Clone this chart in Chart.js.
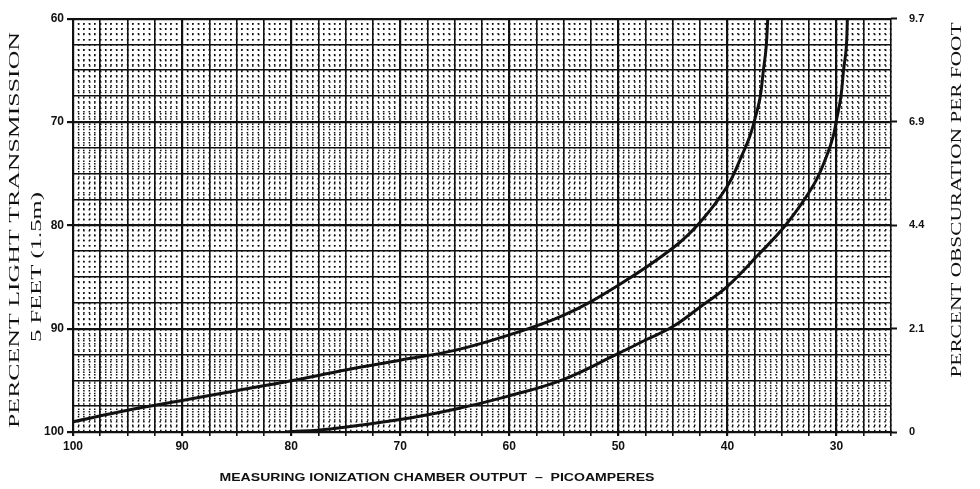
<!DOCTYPE html>
<html>
<head>
<meta charset="utf-8">
<script src="https://cdn.jsdelivr.net/npm/chart.js@4/dist/chart.umd.min.js"></script>
<style>
  html, body { margin: 0; padding: 0; background: #fff; }
  #wrap { width: 980px; height: 489px; }
</style>
</head>
<body>
<div id="wrap"><canvas id="grafica" width="980" height="489"></canvas></div>
<script>
// curva izquierda
const curveAx = [100, 95, 90, 85, 80, 75, 70, 65, 60, 55, 50, 45, 42.5, 40, 38.7, 37.95, 37.5, 37.0, 36.7, 36.45, 36.3];
const curveAy = [99.0, 97.9, 96.95, 96.0, 95.05, 94.0, 93.05, 92.1, 90.6, 88.7, 85.8, 82.2, 79.7, 76.2, 73.3, 71.4, 69.8, 67.6, 65.0, 62.8, 60.0];

// curva derecha
const curveBx = [80.5, 76.4, 70, 65, 60, 55, 50, 47.5, 45, 42.5, 40, 37.3, 34.6, 32.1, 30.9, 30.3, 30.0, 29.6, 29.35, 29.1, 29.0];
const curveBy = [100, 99.7, 98.8, 97.8, 96.5, 94.9, 92.4, 91.1, 89.8, 87.9, 85.9, 83.0, 79.9, 76.1, 73.3, 71.4, 69.8, 67.6, 65.0, 62.8, 60.0];

// ejes
const xLabelValues = [100, 90, 80, 70, 60, 50, 40, 30];
const yLabelValues = [60, 70, 80, 90, 100];
const rightTickValues = [60, 70, 80, 90, 100];
const rightTickLabels = ['9.7', '6.9', '4.4', '2.1', '0'];

const leftTitle = ['PERCENT LIGHT TRANSMISSION', '5 FEET (1.5m)'];
const rightTitle = 'PERCENT OBSCURATION PER FOOT';
const bottomTitle = 'MEASURING IONIZATION CHAMBER OUTPUT  \u2013  PICOAMPERES';

const toPoints = (xs, ys) => xs.map((x, i) => ({ x, y: ys[i] }));
const isMult = (v, m) => Math.abs(v / m - Math.round(v / m)) < 1e-6;

// texto estirado al ancho del original
function fitText(ctx, text, cx, cy, width, font, angle) {
  ctx.save();
  ctx.font = font;
  const w = ctx.measureText(text).width;
  ctx.translate(cx, cy);
  ctx.rotate(angle);
  ctx.scale(width / w, 1);
  ctx.textAlign = 'center';
  ctx.textBaseline = 'middle';
  ctx.fillStyle = '#111';
  ctx.fillText(text, 0, 0);
  ctx.restore();
}

const titlesPlugin = {
  id: 'titulos',
  afterDraw(chart) {
    const ctx = chart.ctx;
    fitText(ctx, leftTitle[0], 15, 230, 396, '15px "Liberation Serif"', -Math.PI / 2);
    fitText(ctx, leftTitle[1], 37, 267, 150, '15px "Liberation Serif"', -Math.PI / 2);
    fitText(ctx, rightTitle, 957, 200, 355, '15px "Liberation Serif"', -Math.PI / 2);
    fitText(ctx, bottomTitle, 437, 478, 435, 'bold 11px "Liberation Sans"', 0);
  }
};

const tickFont = { family: '"Liberation Sans", Arial, sans-serif', size: 12, weight: 'bold' };

new Chart(document.getElementById('grafica').getContext('2d'), {
  type: 'scatter',
  data: {
    datasets: [
      { data: toPoints(curveAx, curveAy) },
      { data: toPoints(curveBx, curveBy) }
    ]
  },
  options: {
    responsive: false,
    animation: false,
    devicePixelRatio: 1,
    layout: { padding: { top: 10, left: 0, right: 0, bottom: 0 } },
    elements: {
      point: { radius: 0 },
      line: { borderColor: '#111', borderWidth: 3, tension: 0.4 }
    },
    datasets: { scatter: { showLine: true } },
    plugins: {
      legend: { display: false },
      tooltip: { enabled: false }
    },
    scales: {
      x: {
        type: 'linear', position: 'bottom', min: 25, max: 100, reverse: true,
        afterFit: s => { s.height = 57; },
        ticks: {
          stepSize: 2.5, autoSkip: false, maxRotation: 0, padding: 3,
          color: '#111', font: tickFont,
          callback: v => xLabelValues.includes(v) ? String(v) : ''
        },
        grid: {
          z: -1, color: '#111', tickColor: '#111', tickLength: 4,
          lineWidth: c => isMult(c.tick.value, 10) ? 2.2 : 1.6
        },
        border: { display: true, color: '#111', width: 2 }
      },
      xMinor: {
        type: 'linear', position: 'bottom', min: 25, max: 100, reverse: true,
        afterFit: s => { s.height = 0; },
        ticks: { display: false, stepSize: 0.5 },
        grid: { z: -2, color: '#111', lineWidth: 1.5, drawTicks: false },
        border: { display: false, dash: [1.5, 3.78], dashOffset: 0.75 }
      },
      y: {
        type: 'linear', position: 'left', min: 60, max: 100, reverse: true,
        afterFit: s => { s.width = 73; },
        ticks: {
          stepSize: 2.5, autoSkip: false, padding: 3,
          color: '#111', font: tickFont,
          callback: v => yLabelValues.includes(v) ? String(v) : ''
        },
        grid: {
          z: -1, color: '#111', tickLength: 6,
          tickColor: c => isMult(c.tick.value, 10) ? '#111' : 'rgba(0,0,0,0)',
          lineWidth: c => isMult(c.tick.value, 10) ? 2.2 : 1.6
        },
        border: { display: true, color: '#111', width: 2 }
      },
      yMinor: {
        type: 'linear', position: 'left', min: 60, max: 100, reverse: true,
        afterFit: s => { s.width = 0; },
        ticks: { display: false, stepSize: 0.5 },
        grid: { z: -2, color: '#111', lineWidth: 1.5, drawTicks: false },
        border: { display: false, dash: [1.5, 3.95], dashOffset: 0.75 }
      },
      yRight: {
        type: 'linear', position: 'right', min: 60, max: 100, reverse: true,
        afterFit: s => { s.width = 89; },
        afterBuildTicks: s => { s.ticks = rightTickValues.map(v => ({ value: v })); },
        ticks: {
          padding: 12, color: '#111', font: { ...tickFont, size: 11 },
          callback: v => rightTickLabels[rightTickValues.indexOf(v)]
        },
        grid: { drawOnChartArea: false, tickLength: 6, tickColor: '#111', tickWidth: 2 },
        border: { display: false }
      }
    }
  },
  plugins: [titlesPlugin]
});
</script>
</body>
</html>
